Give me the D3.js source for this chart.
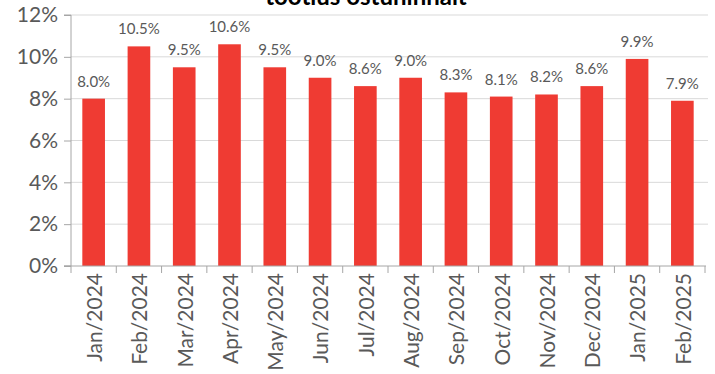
<!DOCTYPE html>
<html>
<head>
<meta charset="utf-8">
<script src="https://cdn.jsdelivr.net/npm/d3@7"></script>
<style>
  html, body { margin: 0; padding: 0; background: #fff; }
  svg { display: block; }
</style>
</head>
<body>
<svg id="chart" width="715" height="374"></svg>
<script>
const categories = ["Jan/2024","Feb/2024","Mar/2024","Apr/2024","May/2024","Jun/2024","Jul/2024","Aug/2024","Sep/2024","Oct/2024","Nov/2024","Dec/2024","Jan/2025","Feb/2025"];
const values = [8.0, 10.5, 9.5, 10.6, 9.5, 9.0, 8.6, 9.0, 8.3, 8.1, 8.2, 8.6, 9.9, 7.9];
const yTicks = [0, 2, 4, 6, 8, 10, 12];
const titleText = "tootlus ostuhinnalt";

const FONT = "Lato, 'Open Sans', sans-serif";
const svg = d3.select("#chart");
const pLeft = 71, pRight = 705, pTop = 15, pBottom = 266;

const x = d3.scaleBand().domain(categories).range([pLeft, pRight]).paddingInner(0.5).paddingOuter(0.25);
const y = d3.scaleLinear().domain([0, 12]).range([pBottom, pTop]);

// title (clipped at the top)
svg.append("text")
  .attr("x", 366).attr("y", 5)
  .attr("text-anchor", "middle")
  .attr("font-family", FONT).attr("font-weight", "bold")
  .attr("font-size", 24).attr("fill", "#000")
  .text(titleText);

// gridlines
svg.append("g").selectAll("line").data(yTicks.filter(d => d > 0)).join("line")
  .attr("x1", pLeft).attr("x2", 708)
  .attr("y1", d => y(d)).attr("y2", d => y(d))
  .attr("stroke", "#d9d9d9").attr("stroke-width", 1);

// bars
svg.append("g").selectAll("rect").data(values).join("rect")
  .attr("x", (d, i) => x(categories[i]))
  .attr("width", x.bandwidth())
  .attr("y", d => y(d))
  .attr("height", d => y(0) - y(d))
  .attr("fill", "#ef3b33");

// value labels
svg.append("g").selectAll("text").data(values).join("text")
  .attr("x", (d, i) => x(categories[i]) + x.bandwidth() / 2)
  .attr("y", d => y(d) - 12)
  .attr("text-anchor", "middle")
  .attr("font-family", FONT).attr("font-size", 15).attr("fill", "#595959")
  .text(d => d.toFixed(1) + "%");

// y axis
const yAxis = d3.axisLeft(y).tickValues(yTicks).tickFormat(d => d + "%").tickSize(7).tickPadding(6);
const gy = svg.append("g").attr("transform", `translate(${pLeft},0)`).call(yAxis);
gy.select(".domain").attr("stroke", "#a6a6a6").attr("d", `M-7,${pBottom}H0V${pTop}H-7`);
gy.selectAll(".tick line").attr("stroke", "#a6a6a6");
gy.selectAll(".tick text").attr("font-family", FONT).attr("font-size", 21).attr("fill", "#595959");

// x axis with ticks at band boundaries
const xb = d3.scaleLinear().domain([0, categories.length]).range([pLeft, pRight]);
svg.append("line").attr("x1", pLeft - 7).attr("x2", pRight + 1).attr("y1", pBottom).attr("y2", pBottom)
  .attr("stroke", "#a6a6a6");
svg.append("g").selectAll("line").data(d3.range(categories.length + 1)).join("line")
  .attr("x1", d => xb(d)).attr("x2", d => xb(d))
  .attr("y1", pBottom).attr("y2", pBottom + 7)
  .attr("stroke", "#a6a6a6");

svg.append("g").selectAll("text").data(categories).join("text")
  .attr("transform", d => `translate(${x(d) + x.bandwidth() / 2 + 1},${pBottom + 7}) rotate(-90)`)
  .attr("text-anchor", "end")
  .attr("dy", "0.35em")
  .attr("font-family", FONT).attr("font-size", 21).attr("fill", "#595959")
  .text(d => d);
</script>
</body>
</html>
